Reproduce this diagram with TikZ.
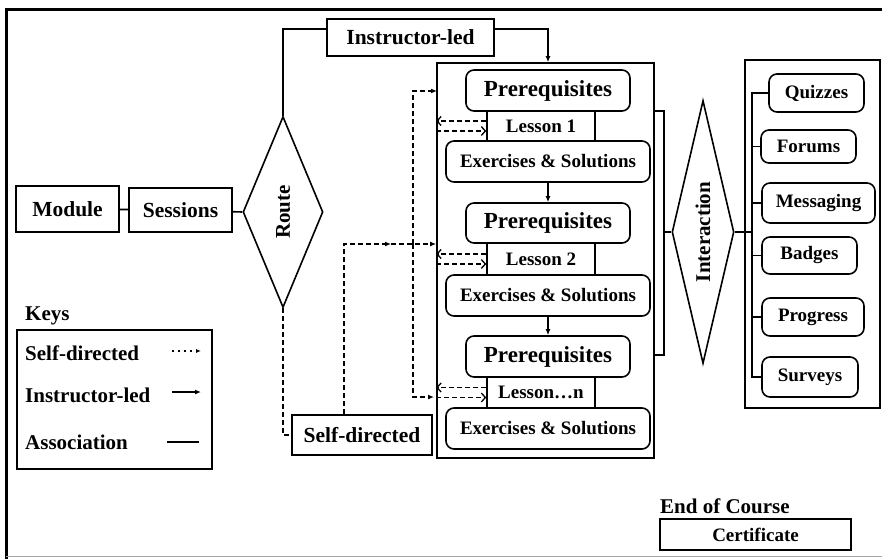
\documentclass[tikz,border=0pt]{standalone}
\usepackage{fontspec}
\usepackage{graphicx}
\setmainfont{Liberation Serif}
\usetikzlibrary{shapes.geometric,arrows.meta,calc}
\tikzset{
  box/.style={draw, line width=1.6pt, inner sep=0pt, font=\bfseries\fontsize{20}{22}\selectfont},
  rbox/.style={box, rounded corners=8pt},
  small/.style={font=\bfseries\fontsize{19}{21}\selectfont},
  big/.style={font=\bfseries\fontsize{21.5}{24}\selectfont},
  prq/.style={font=\bfseries\fontsize{23}{25}\selectfont},
  dia/.style={draw, diamond, line width=1.6pt, inner sep=0pt, font=\bfseries\fontsize{21}{24}\selectfont},
  lbl/.style={anchor=west, inner sep=0pt, font=\bfseries\fontsize{21}{24}\selectfont},
  assoc/.style={line width=1.6pt},
  sdline/.style={line width=1.5pt, dash pattern=on 5pt off 3pt},
  solidarrow/.style={line width=1.6pt, -{Latex[length=6pt,width=5pt]}},
  barb/.style={sdline, -{Straight Barb[length=4pt,width=9pt,line width=1.3pt]}},
  sdarrow/.style={sdline, -{Latex[length=6pt,width=5pt]}}
}
\begin{document}
\begin{tikzpicture}[x=1pt,y=-1pt]
\useasboundingbox (0,0) rectangle (882,559);
% frame
\draw[line width=3pt] (6,559) -- (6,10) -- (882,10);
\draw[gray!70, line width=1pt] (6,556.5) -- (882,556.5);

% left chain
\node[box, big, minimum width=103, minimum height=46] (module) at (67.5,209) {Module};
\node[box, big, minimum width=103, minimum height=44] (sessions) at (180.5,210) {Sessions};
\node[dia, shape aspect=0.42, minimum width=80, minimum height=191] (route) at (283,212) {\rotatebox{90}{Route}};
\node[box, big, minimum width=167, minimum height=37] (instr) at (410.5,37.5) {Instructor-led};
\node[box, big, minimum width=140, minimum height=40] (sd) at (362,435) {Self-directed};

\draw[assoc] (module) -- (sessions);
\draw[assoc] (sessions) -- (route.west);
\draw[assoc] (route.north) |- ([yshift=8.5pt]instr.west);

% main box
\node[draw, line width=1.6pt, minimum width=217, minimum height=395, inner sep=0pt] (main) at (545.5,260.5) {};
\node[rbox, prq, minimum width=164, minimum height=41] (p1) at (548,90.5) {Prerequisites};
\node[box, small, minimum width=108, minimum height=30] (l1) at (541,126) {Lesson 1};
\node[rbox, small, minimum width=204, minimum height=41] (e1) at (548,161.5) {Exercises \& Solutions};
\node[rbox, prq, minimum width=164, minimum height=40] (p2) at (548,223) {Prerequisites};
\node[box, small, minimum width=108, minimum height=32] (l2) at (541,259) {Lesson 2};
\node[rbox, small, minimum width=204, minimum height=41] (e2) at (548,295.5) {Exercises \& Solutions};
\node[rbox, prq, minimum width=164, minimum height=41] (p3) at (548,356.5) {Prerequisites};
\node[box, small, minimum width=108, minimum height=31] (l3) at (541,392.5) {Lesson\ldots n};
\node[rbox, small, minimum width=204, minimum height=41] (e3) at (548,428.5) {Exercises \& Solutions};

\draw[solidarrow] ([yshift=8.5pt]instr.east) -| (p1.north |- main.north);
\draw[solidarrow] (e1) -- (p2);
\draw[solidarrow] (e2) -- (p3);

% lesson dashed arrows
\foreach \l in {l1,l2,l3}{
  \draw[barb] ([yshift=5pt]\l.west) -- ([yshift=5pt]\l.west -| main.west);
  \draw[barb] ([yshift=-5pt]\l.west -| main.west) -- ([yshift=-5pt]\l.west);
}

% self-directed routing
\coordinate (sdtop) at ([xshift=-18pt]sd.north);
\coordinate (j) at (413,244);
\coordinate (mid) at (391,244);
\coordinate (entry1) at (437,91);
\coordinate (entry3) at (434,397);
\draw[sdline] (route.south) |- (sd.west);
\draw[sdarrow] (sdtop) |- (mid);
\draw[sdarrow] (mid) -- (j -| main.west);
\draw[sdarrow] (j) |- (entry1);
\draw[sdarrow] (j) |- (entry3);

% interaction
\node[dia, shape aspect=0.236, minimum width=62, minimum height=263] (inter) at (703,232) {\rotatebox{90}{Interaction}};
\coordinate (b1) at (654,111);
\coordinate (b2) at (654,355);
\draw[assoc] (b1) -- ++(10,0) |- (b2);
\draw[assoc] (inter.west) -- ++(-8,0);

% right box
\node[draw, line width=1.6pt, minimum width=135, minimum height=348, inner sep=0pt] (rbx) at (812.5,234) {};
\node[rbox, small, minimum width=95, minimum height=38] (quiz) at (816.5,93) {Quizzes};
\node[rbox, small, minimum width=95, minimum height=33] (forum) at (808.5,146.5) {Forums};
\node[rbox, small, minimum width=113, minimum height=40] (msg) at (818.5,203) {Messaging};
\node[rbox, small, minimum width=95, minimum height=37] (badge) at (809.5,255.5) {Badges};
\node[rbox, small, minimum width=102, minimum height=38] (prog) at (813,317) {Progress};
\node[rbox, small, minimum width=96, minimum height=40] (surv) at (810,377) {Surveys};
\coordinate (rv) at (752,232);
\draw[assoc] (inter.east) -- (rv);
\draw[assoc] (quiz.west) -| (rv);
\draw[assoc] (surv.west) -| (rv);
\foreach \b in {forum,msg,badge,prog}{
  \draw[assoc] (\b.west) -- (\b.west -| rv);
}

% keys
\node[lbl] (keys) at (25,316) {Keys};
\node[draw, line width=1.6pt, minimum width=195, minimum height=139, inner sep=0pt] (keybox) at (114.5,399.5) {};
\node[lbl] (k1) at (25,353) {Self-directed};
\node[lbl] (k2) at (25,395) {Instructor-led};
\node[lbl] (k3) at (25,442) {Association};
\coordinate (k1a) at (172,351);
\coordinate (k1b) at (201,351);
\coordinate (k2a) at (172,392);
\coordinate (k2b) at (201,392);
\coordinate (k3a) at (167,442);
\coordinate (k3b) at (199,442);
\draw[line width=1.3pt, dash pattern=on 2pt off 4pt, -{Latex[length=5pt,width=4pt]}] (k1a) -- (k1b);
\draw[solidarrow] (k2a) -- (k2b);
\draw[assoc] (k3a) -- (k3b);

% end of course
\node[lbl] (eoc) at (660,506) {End of Course};
\node[box, small, minimum width=191, minimum height=31] (cert) at (755.5,534.5) {Certificate};
\end{tikzpicture}
\end{document}
